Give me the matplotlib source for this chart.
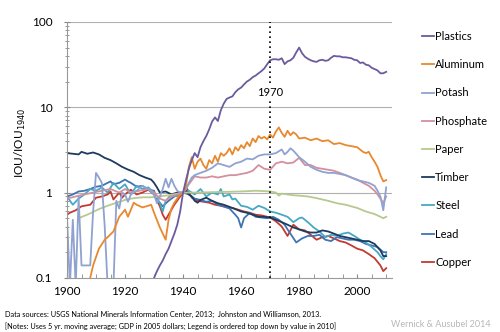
import matplotlib
matplotlib.use("Agg")
import matplotlib.pyplot as plt
from matplotlib.ticker import FixedLocator, NullFormatter, LogLocator

plt.rcParams['font.family'] = ['Lato', 'DejaVu Sans']

# data (IOU relative to 1940, log scale)
plastics_years = [1930, 1931, 1932, 1933, 1934, 1935, 1936, 1937, 1938, 1939,
                  1940, 1941, 1942, 1943, 1944, 1945, 1946, 1947, 1948, 1949,
                  1950, 1951, 1952, 1953, 1954, 1955, 1956, 1957, 1958, 1959,
                  1960, 1961, 1962, 1963, 1964, 1965, 1966, 1967, 1968, 1969,
                  1970, 1971, 1972, 1973, 1974, 1975, 1976, 1977, 1978, 1979,
                  1980, 1981, 1982, 1983, 1984, 1985, 1986, 1987, 1988, 1989,
                  1990, 1991, 1992, 1993, 1994, 1995, 1996, 1997, 1998, 1999,
                  2000, 2001, 2002, 2003, 2004, 2005, 2006, 2007, 2008, 2009, 2010]
plastics = [0.10, 0.12, 0.14, 0.16, 0.19, 0.22, 0.27, 0.33, 0.42, 0.6,
            1.0, 1.4, 1.9, 2.4, 2.9, 2.6, 3.4, 4.0, 4.6, 5.5,
            6.8, 7.6, 6.9, 9.2, 11.0, 12.5, 13.0, 13.4, 15.0, 16.2,
            17.0, 18.5, 20.0, 21.0, 22.5, 23.5, 25.0, 26.5, 28.5, 32.0,
            35.5, 36.5, 36.5, 36.0, 37.5, 32.0, 34.5, 35.5, 38.0, 44.0,
            50.0, 43.0, 39.0, 37.0, 35.5, 34.5, 34.0, 35.5, 36.0, 35.0,
            35.5, 38.0, 40.0, 39.5, 39.5, 38.5, 38.5, 38.0, 37.5, 36.0,
            35.5, 33.0, 33.5, 31.5, 31.0, 29.0, 28.0, 27.0, 25.0, 25.0, 26.0]

aluminum_years = [1908, 1909, 1911, 1913, 1914, 1916, 1918, 1920, 1921, 1923,
                  1924, 1926, 1928, 1929, 1930, 1932, 1934, 1935, 1936, 1937,
                  1939, 1940, 1941, 1942, 1943, 1944, 1945, 1946, 1947, 1948,
                  1949, 1950, 1951, 1952, 1953, 1954, 1955, 1956, 1957, 1958,
                  1959, 1960, 1961, 1962, 1963, 1964, 1965, 1966, 1967, 1968,
                  1969, 1970, 1971, 1972, 1973, 1974, 1975, 1976, 1977, 1978,
                  1979, 1980, 1982, 1984, 1986, 1988, 1990, 1992, 1994, 1996,
                  1998, 2000, 2002, 2003, 2004, 2005, 2006, 2007, 2008, 2009, 2010]
aluminum = [0.10, 0.14, 0.22, 0.28, 0.30, 0.35, 0.52, 0.63, 0.52, 0.76,
            0.72, 0.67, 0.70, 0.72, 0.58, 0.39, 0.28, 0.48, 0.65, 0.76,
            0.95, 1.0, 1.2, 2.0, 2.6, 1.9, 2.3, 2.5, 2.1, 1.9,
            2.4, 2.2, 2.7, 2.3, 2.9, 2.7, 2.9, 3.3, 2.8, 3.4,
            3.1, 3.6, 3.3, 3.9, 3.5, 4.3, 3.9, 4.6, 4.3, 4.5,
            4.2, 4.8, 4.4, 5.2, 5.8, 5.0, 4.5, 5.3, 4.7, 5.1,
            4.8, 4.3, 4.4, 4.1, 4.3, 4.0, 4.1, 3.7, 3.8, 3.6,
            3.5, 3.4, 3.0, 2.9, 3.0, 2.6, 2.3, 2.0, 1.6, 1.35, 1.4]

potash_years = [1900, 1901, 1902, 1903, 1904, 1905, 1906, 1908, 1909, 1910,
                1911, 1912, 1913, 1914, 1915, 1916, 1917, 1918, 1919, 1920,
                1921, 1922, 1924, 1926, 1928, 1930, 1931, 1932, 1933, 1934,
                1935, 1936, 1937, 1938, 1939, 1940, 1941, 1942, 1943, 1944,
                1946, 1948, 1950, 1952, 1954, 1956, 1958, 1960, 1962, 1964,
                1966, 1968, 1970, 1972, 1974, 1975, 1976, 1977, 1978, 1980,
                1982, 1984, 1986, 1988, 1990, 1992, 1994, 1996, 1998, 2000,
                2002, 2004, 2006, 2007, 2008, 2009, 2010]
potash = [0.52, 0.08, 0.48, 0.08, 0.9, 0.14, 0.14, 0.14, 0.6, 1.7,
          1.5, 1.3, 0.4, 0.08, 0.08, 0.08, 0.8, 0.65, 1.0, 0.95,
          0.78, 0.95, 1.05, 1.2, 1.1, 0.95, 0.75, 0.9, 1.1, 1.45,
          1.15, 1.45, 1.2, 1.05, 1.0, 1.0, 1.1, 1.3, 1.5, 1.6,
          1.7, 1.8, 1.95, 2.2, 2.1, 2.0, 2.2, 2.3, 2.5, 2.45,
          2.7, 2.8, 2.8, 2.9, 3.2, 2.8, 3.0, 3.3, 3.1, 2.6,
          2.3, 2.0, 1.85, 1.75, 1.7, 1.7, 1.65, 1.6, 1.5, 1.4,
          1.35, 1.3, 1.2, 1.05, 0.9, 0.62, 1.15]

phosphate_years = [1900, 1903, 1906, 1909, 1912, 1915, 1918, 1920, 1922, 1925,
                   1928, 1930, 1932, 1934, 1936, 1938, 1940, 1942, 1944, 1946,
                   1948, 1950, 1952, 1954, 1956, 1958, 1960, 1962, 1964, 1966,
                   1968, 1970, 1972, 1974, 1976, 1978, 1980, 1982, 1984, 1986,
                   1988, 1990, 1992, 1994, 1996, 1998, 2000, 2002, 2004, 2006,
                   2007, 2008, 2009, 2010]
phosphate = [0.85, 0.9, 0.95, 1.0, 1.05, 1.1, 1.0, 1.1, 1.0, 1.05,
             1.1, 1.0, 0.85, 0.8, 0.9, 0.95, 1.0, 1.25, 1.55, 1.5,
             1.5, 1.55, 1.5, 1.55, 1.6, 1.6, 1.65, 1.7, 1.8, 2.1,
             1.9, 1.85, 2.2, 2.3, 2.2, 2.25, 2.55, 2.1, 2.1, 1.95,
             1.9, 1.85, 1.8, 1.7, 1.6, 1.5, 1.42, 1.3, 1.2, 1.05,
             0.95, 0.85, 0.75, 0.9]

paper_years = [1904, 1908, 1911, 1914, 1917, 1920, 1923, 1926, 1929, 1932,
               1935, 1938, 1940, 1945, 1950, 1955, 1960, 1965, 1968, 1970,
               1972, 1973, 1974, 1976, 1978, 1980, 1983, 1986, 1990, 1993,
               1996, 2000, 2003, 2006, 2008, 2009, 2010]
paper = [0.5, 0.57, 0.64, 0.7, 0.76, 0.82, 0.86, 0.88, 0.88, 0.9,
         0.93, 0.97, 1.0, 1.0, 1.01, 1.02, 1.03, 1.05, 1.04, 1.03,
         1.0, 0.92, 0.97, 0.95, 0.93, 0.92, 0.9, 0.86, 0.8, 0.75,
         0.72, 0.66, 0.6, 0.56, 0.52, 0.5, 0.52]

timber_years = [1900, 1902, 1904, 1905, 1907, 1909, 1911, 1913, 1915, 1917,
                1919, 1921, 1923, 1925, 1927, 1929, 1930, 1931, 1932, 1934,
                1936, 1938, 1940, 1941, 1942, 1943, 1944, 1945, 1946, 1948,
                1950, 1952, 1954, 1956, 1958, 1960, 1962, 1964, 1966, 1968,
                1970, 1972, 1974, 1976, 1978, 1980, 1982, 1984, 1986, 1988,
                1990, 1992, 1994, 1996, 1998, 2000, 2002, 2004, 2006, 2008,
                2009, 2010]
timber = [2.9, 2.85, 2.8, 3.0, 2.85, 2.95, 2.8, 2.55, 2.4, 2.2,
          2.0, 1.86, 1.75, 1.6, 1.5, 1.42, 1.3, 1.15, 1.0, 1.03,
          0.95, 1.0, 1.0, 1.05, 0.95, 0.9, 0.8, 0.76, 0.82, 0.87,
          0.8, 0.75, 0.72, 0.68, 0.64, 0.6, 0.58, 0.55, 0.52, 0.52,
          0.51, 0.48, 0.45, 0.42, 0.39, 0.37, 0.35, 0.34, 0.34, 0.36,
          0.35, 0.33, 0.31, 0.30, 0.29, 0.28, 0.27, 0.27, 0.25, 0.21,
          0.18, 0.18]

steel_years = [1900, 1902, 1904, 1906, 1908, 1910, 1912, 1914, 1916, 1918,
               1920, 1922, 1924, 1926, 1928, 1930, 1932, 1933, 1934, 1936,
               1938, 1940, 1942, 1944, 1946, 1948, 1950, 1952, 1953, 1954,
               1956, 1957, 1958, 1960, 1962, 1964, 1966, 1968, 1970, 1972,
               1974, 1976, 1978, 1980, 1981, 1983, 1985, 1987, 1989, 1991,
               1993, 1995, 1997, 1999, 2001, 2003, 2005, 2007, 2008, 2009, 2010]
steel = [0.9, 0.72, 0.85, 0.95, 1.1, 1.05, 1.15, 1.0, 1.3, 1.1,
         1.25, 0.95, 1.2, 1.1, 1.15, 1.0, 0.75, 0.6, 0.8, 0.95,
         0.9, 1.0, 1.05, 0.95, 1.1, 0.9, 1.0, 0.95, 1.1, 0.9,
         0.95, 0.83, 0.85, 0.7, 0.68, 0.63, 0.7, 0.66, 0.6, 0.58,
         0.55, 0.52, 0.45, 0.5, 0.51, 0.45, 0.39, 0.35, 0.3, 0.32,
         0.31, 0.33, 0.34, 0.31, 0.28, 0.26, 0.23, 0.2, 0.18, 0.165, 0.19]

lead_years = [1900, 1902, 1904, 1906, 1908, 1910, 1912, 1914, 1915, 1916,
              1918, 1920, 1921, 1922, 1924, 1926, 1928, 1930, 1931, 1933,
              1935, 1937, 1939, 1940, 1942, 1944, 1946, 1948, 1950, 1952,
              1954, 1956, 1958, 1959, 1960, 1961, 1963, 1965, 1967, 1969,
              1971, 1973, 1975, 1976, 1977, 1979, 1981, 1983, 1985, 1987,
              1989, 1991, 1993, 1995, 1997, 1999, 2001, 2003, 2005, 2007,
              2009, 2010]
lead = [0.9, 0.95, 1.03, 1.05, 1.1, 1.17, 1.2, 1.3, 1.35, 1.25,
        1.3, 1.42, 1.35, 1.3, 1.17, 1.2, 1.08, 1.05, 0.83, 0.69,
        0.8, 0.9, 0.95, 1.0, 0.95, 0.85, 0.82, 0.78, 0.8, 0.72,
        0.69, 0.65, 0.55, 0.5, 0.39, 0.5, 0.58, 0.52, 0.51, 0.5,
        0.52, 0.48, 0.42, 0.37, 0.33, 0.26, 0.29, 0.31, 0.31, 0.32,
        0.28, 0.27, 0.3, 0.29, 0.28, 0.28, 0.27, 0.25, 0.24, 0.23,
        0.2, 0.2]

copper_years = [1900, 1901, 1903, 1905, 1908, 1910, 1912, 1914, 1915, 1916,
                1918, 1919, 1920, 1922, 1924, 1926, 1928, 1930, 1932, 1933,
                1934, 1935, 1937, 1939, 1940, 1941, 1943, 1945, 1947, 1949,
                1951, 1953, 1955, 1957, 1959, 1961, 1963, 1965, 1967, 1969,
                1970, 1972, 1974, 1976, 1978, 1980, 1982, 1984, 1986, 1988,
                1990, 1992, 1994, 1996, 1998, 2000, 2002, 2004, 2006, 2008,
                2009, 2010]
copper = [0.55, 0.58, 0.62, 0.69, 0.72, 0.87, 0.9, 0.95, 1.03, 0.83,
          1.0, 0.87, 0.95, 1.08, 0.95, 1.0, 1.08, 0.95, 0.69, 0.55,
          0.48, 0.55, 0.72, 0.9, 1.0, 1.17, 0.87, 0.8, 0.78, 0.76,
          0.72, 0.7, 0.67, 0.66, 0.63, 0.6, 0.58, 0.55, 0.54, 0.52,
          0.51, 0.46, 0.4, 0.31, 0.42, 0.37, 0.36, 0.32, 0.28, 0.3,
          0.31, 0.29, 0.27, 0.26, 0.24, 0.22, 0.21, 0.19, 0.17, 0.14,
          0.12, 0.13]

names = ["Plastics", "Aluminum", "Potash", "Phosphate", "Paper",
         "Timber", "Steel", "Lead", "Copper"]
colors = ["#6b5b9e", "#e8892f", "#8fa2d0", "#d3909f", "#b7c98f",
          "#1e3a5f", "#45a9c4", "#3f74b3", "#c23a32"]
series = [(plastics_years, plastics), (aluminum_years, aluminum),
          (potash_years, potash), (phosphate_years, phosphate),
          (paper_years, paper), (timber_years, timber),
          (steel_years, steel), (lead_years, lead), (copper_years, copper)]

fig = plt.figure(figsize=(5, 3.32), dpi=100)
ax = fig.add_axes([0.134, 0.163, 0.65, 0.771])

# draw back to front so the legend order stays top-down
for (yrs, vals), name, col in reversed(list(zip(series, names, colors))):
    ax.plot(yrs, vals, color=col, lw=1.3, label=name)

ax.set_yscale('log')
ax.set_ylim(0.1, 100)
ax.set_xlim(1900, 2012)

ax.axvline(1970, color='black', ls=(0, (1, 2)), lw=1.2)
ax.text(1970, 14.7, "1970", ha='center', va='center', fontsize=8,
        bbox=dict(facecolor='white', edgecolor='none', pad=1.5))

for v in [1, 10, 100]:
    ax.axhline(v, color='#b0b0b0', lw=0.8, zorder=0)

ax.set_xticks([1900, 1920, 1940, 1960, 1980, 2000])
ax.xaxis.set_minor_locator(FixedLocator(list(range(1905, 2012, 5))))
ax.set_yticks([0.1, 1, 10, 100])
ax.set_yticklabels(["0.1", "1", "10", "100"])
ax.yaxis.set_minor_locator(LogLocator(base=10, subs=range(2, 10)))
ax.yaxis.set_minor_formatter(NullFormatter())
ax.tick_params(axis='x', which='both', direction='in', length=3,
               color='#888888', labelsize=8.5, pad=6)
ax.tick_params(axis='y', which='major', direction='inout', length=5,
               color='#888888', labelsize=8.5, pad=8)
ax.tick_params(axis='y', which='minor', direction='inout', length=3,
               color='#888888')

for s in ['top', 'right']:
    ax.spines[s].set_visible(False)
for s in ['left', 'bottom']:
    ax.spines[s].set_color('#999999')
    ax.spines[s].set_linewidth(0.8)

fig.text(0.04, 0.57, "IOU/IOU$_{1940}$", rotation=90, ha='center',
         va='center', fontsize=8.5)

handles, labels = ax.get_legend_handles_labels()
fig.legend(handles[::-1], labels[::-1], loc='upper left',
           bbox_to_anchor=(0.835, 0.92), frameon=False, fontsize=8,
           handlelength=1.1, handletextpad=0.1, labelspacing=1.55,
           borderaxespad=0)

fig.text(0.01, 0.052, "Data sources: USGS National Minerals Information Center, 2013;  "
         "Johnston and Williamson, 2013.", fontsize=5.3, va='center')
fig.text(0.01, 0.018, "[Notes: Uses 5 yr. moving average; GDP in 2005 dollars; "
         "Legend is ordered top down by value in 2010]", fontsize=5.3, va='center')
fig.text(0.982, 0.022, "Wernick & Ausubel 2014", fontsize=6.5, color='#b8b8b8',
         ha='right', va='center')

fig.savefig("out.png", dpi=100)
